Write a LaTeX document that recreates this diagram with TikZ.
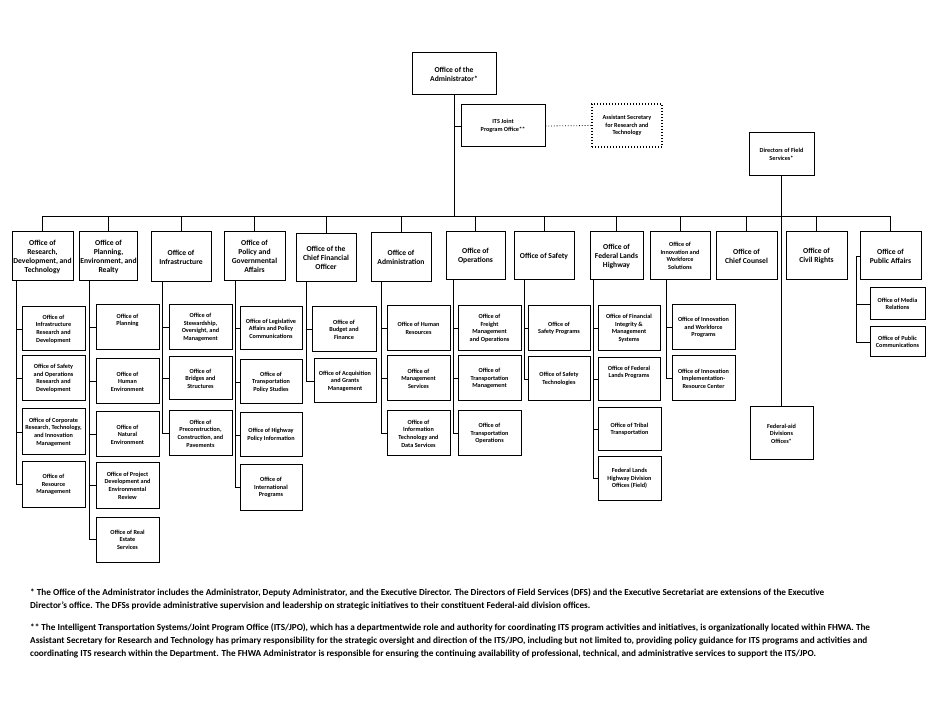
\documentclass[tikz,border=0pt]{standalone}
\usepackage{fontspec}
\setmainfont{Carlito}
\begin{document}
\begin{tikzpicture}[x=1pt,y=-1pt,
  base/.style={draw=black,line width=1pt,align=center,inner sep=1pt,font=\bfseries},
  top/.style={base,font=\fontsize{7.6}{9}\selectfont\bfseries},
  sub/.style={base,font=\fontsize{6.2}{7.6}\selectfont\bfseries},
  ln/.style={line width=0.8pt},
  note/.style={anchor=west,inner sep=0pt,font=\fontsize{9.2}{10}\selectfont\bfseries}]
\useasboundingbox (0,0) rectangle (930,719);
\newcommand{\bx}[7]{\node[#1,minimum width={(#5-#3)*1pt},minimum height={(#6-#4)*1pt}] (#2) at ({(#3+#5)/2},{(#4+#6)/2}) {#7};}
% top
\bx{top}{adm}{412}{53}{496}{95}{Office of the\\Administrator*}
\bx{sub}{its}{461}{105}{545}{147}{ITS Joint\\Program Office**}
\bx{sub,dotted,line width=1.3pt}{asr}{592}{104}{662}{147}{Assistant Secretary\\for Research and\\Technology}
\bx{sub}{dfs}{749}{133}{814}{176}{Directors of Field\\Services*}
\bx{sub}{fao}{750}{407}{813}{460}{Federal-aid\\Divisions\\Offices*}
% level 1
\bx{top}{t1}{12}{232}{73}{281}{Office of\\Research,\\Development, and\\Technology}
\bx{top}{t2}{80}{232}{137}{281}{Office of\\Planning,\\Environment, and\\Realty}
\bx{top}{t3}{151}{232}{211}{282}{Office of\\Infrastructure}
\bx{top}{t4}{224}{232}{285}{281}{Office of\\Policy and\\Governmental\\Affairs}
\bx{top}{t5}{296}{234}{356}{282}{Office of the\\Chief Financial\\Officer}
\bx{top}{t6}{371}{233}{431}{282}{Office of\\Administration}
\bx{top}{t7}{446}{232}{505}{280}{Office of\\Operations}
\bx{top}{t8}{514}{232}{574}{280}{Office of Safety}
\bx{top}{t9}{590}{232}{643}{280}{Office of\\Federal Lands\\Highway}
\bx{sub}{t10}{650}{232}{710}{280}{Office of\\Innovation and\\Workforce\\Solutions}
\bx{top}{t11}{716}{232}{777}{280}{Office of\\Chief Counsel}
\bx{top}{t12}{786}{232}{847}{280}{Office of\\Civil Rights}
\bx{top}{t13}{860}{232}{921}{280}{Office of\\Public Affairs}
% column 1
\bx{sub}{a1}{22}{307}{85}{351}{Office of\\Infrastructure\\Research and\\Development}
\bx{sub}{a2}{22}{356}{85}{401}{Office of  Safety\\and Operations\\Research and\\Development}
\bx{sub}{a3}{22}{409}{85}{455}{Office of Corporate\\Research, Technology,\\and Innovation\\Management}
\bx{sub}{a4}{22}{462}{85}{507}{Office of\\Resource\\Management}
% column 2
\bx{sub}{b1}{96}{305}{159}{350}{Office of\\Planning\\[8pt]}
\bx{sub}{b2}{96}{359}{159}{404}{Office of\\Human\\Environment}
\bx{sub}{b3}{96}{412}{159}{457}{Office of\\Natural\\Environment}
\bx{sub}{b4}{96}{463}{159}{508}{Office of Project\\Development and\\Environmental\\Review}
\bx{sub}{b5}{96}{517}{159}{562}{Office of  Real\\Estate\\Services}
% column 3
\bx{sub}{c1}{169}{305}{232}{350}{Office of\\Stewardship,\\Oversight, and\\Management}
\bx{sub}{c2}{169}{357}{232}{400}{Office of\\Bridges and\\Structures}
\bx{sub}{c3}{169}{411}{232}{456}{Office of\\Preconstruction,\\Construction, and\\Pavements}
% column 4
\bx{sub}{d1}{240}{307}{302}{350}{Office of  Legislative\\Affairs and Policy\\Communications}
\bx{sub}{d2}{240}{360}{302}{404}{Office of\\Transportation\\Policy Studies}
\bx{sub}{d3}{240}{413}{302}{457}{Office of  Highway\\Policy  Information}
\bx{sub}{d4}{240}{465}{302}{510}{Office of\\International\\Programs}
% column 5
\bx{sub}{e1}{312}{307}{376}{352}{Office of\\Budget and\\Finance}
\bx{sub}{e2}{314}{359}{376}{403}{Office of Acquisition\\and Grants\\Management}
% column 6
\bx{sub}{f1}{387}{306}{450}{351}{Office of Human\\Resources}
\bx{sub}{f2}{387}{356}{450}{401}{Office of\\Management\\Services}
\bx{sub}{f3}{387}{411}{450}{456}{Office of\\Information\\Technology and\\Data Services}
% column 7
\bx{sub}{g1}{458}{306}{521}{351}{Office of\\Freight\\Management\\and Operations}
\bx{sub}{g2}{458}{356}{521}{401}{Office of\\Transportation\\Management}
\bx{sub}{g3}{458}{411}{521}{456}{Office of\\Transportation\\Operations}
% column 8
\bx{sub}{h1}{528}{306}{590}{351}{Office of\\Safety Programs}
\bx{sub}{h2}{528}{357}{590}{401}{Office of  Safety\\Technologies}
% column 9
\bx{sub}{i1}{598}{306}{660}{351}{Office of Financial\\Integrity \&\\Management\\Systems}
\bx{sub}{i2}{598}{358}{660}{401}{Office of Federal\\Lands Programs\\[8pt]}
\bx{sub}{i3}{598}{408}{661}{451}{Office of Tribal\\Transportation}
\bx{sub}{i4}{598}{457}{661}{500}{Federal Lands\\Highway Division\\Offices (Field)}
% column 10
\bx{sub}{j1}{672}{305}{735}{350}{Office of Innovation\\and Workforce\\Programs}
\bx{sub}{j2}{672}{356}{735}{401}{Office of Innovation\\Implementation-\\Resource Center}
% column 13
\bx{sub}{k1}{870}{288}{925}{320}{Office of Media\\Relations}
\bx{sub}{k2}{870}{327}{925}{357}{Office of Public\\Communications}
% connectors
\coordinate (bus) at (0,216);
\draw[ln] (adm.south) -- (adm.south |- bus);
\draw[ln] (adm.south |- its.west) -- (its.west);
\draw[ln,dotted] (its.east) -- (asr.west);
\draw[ln] (t1.north |- bus) -- (t13.north |- bus);
\foreach \t in {t1,t2,t3,t4,t5,t6,t7,t8,t9,t10,t11,t12,t13}
  \draw[ln] (\t.north |- bus) -- (\t.north);
\draw[ln] (dfs.south) -- (dfs.south |- fao.north);
\foreach \p/\s/\l in {t1/5/{a1,a2,a3,a4}, t2/10/{b1,b2,b3,b4,b5}, t3/12/{c1,c2,c3}, t4/12/{d1,d2,d3,d4},
  t5/11/{e1,e2}, t6/11/{f1,f2,f3}, t7/8/{g1,g2,g3}, t8/11/{h1,h2}, t9/4/{i1,i2,i3,i4}, t10/17/{j1,j2}}
  \foreach \c in \l
    \draw[ln] ([xshift=\s pt]\p.south west) |- (\c.west);
\foreach \c in {k1,k2}
  \draw[ln] (t13.west) -- ++(-3,0) |- (\c.west);
% notes
\node[note] (n1) at (30,593) {* The Office of the Administrator includes the Administrator, Deputy Administrator, and the Executive Director. The Directors of Field Services (DFS) and the Executive Secretariat are extensions of the Executive};
\node[note] (n2) at (30,606) {Director’s office. The DFSs provide administrative supervision and leadership on strategic initiatives to their constituent Federal-aid division  offices.};
\node[note] (n3) at (30,628) {** The Intelligent Transportation Systems/Joint Program Office (ITS/JPO), which has a departmentwide role and authority for coordinating ITS program activities and initiatives, is organizationally located within  FHWA. The};
\node[note] (n4) at (30,641) {Assistant Secretary for Research and Technology has primary responsibility for the strategic oversight and direction of the ITS/JPO, including but not limited to, providing policy guidance for ITS  programs and activities and};
\node[note] (n5) at (30,654) {coordinating ITS research within the Department. The FHWA Administrator is responsible for ensuring the continuing availability of professional, technical, and administrative services  to support the ITS/JPO.};
\end{tikzpicture}
\end{document}
